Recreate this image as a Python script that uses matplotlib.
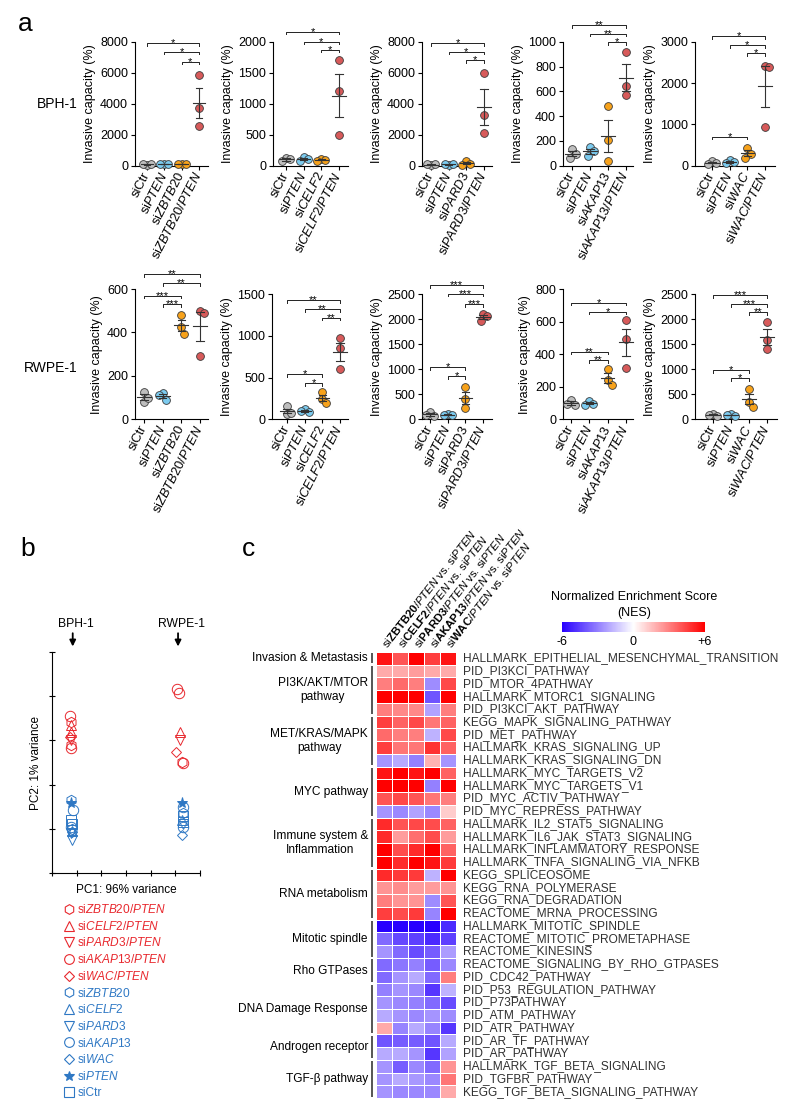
import numpy as np
import matplotlib
matplotlib.use("Agg")
import matplotlib.pyplot as plt
from matplotlib.colors import LinearSegmentedColormap, Normalize
from matplotlib.cm import ScalarMappable
from matplotlib.lines import Line2D

plt.rcParams['font.family'] = ['Liberation Sans', 'DejaVu Sans']
plt.rcParams['mathtext.fontset'] = 'custom'
plt.rcParams['mathtext.rm'] = 'Liberation Sans'
plt.rcParams['mathtext.it'] = 'Liberation Sans:italic'
plt.rcParams['mathtext.bf'] = 'Liberation Sans:bold'
plt.rcParams['axes.linewidth'] = 0.8

# ======================= DATA =======================
genes = ['ZBTB20', 'CELF2', 'PARD3', 'AKAP13', 'WAC']
cell_lines = ['BPH-1', 'RWPE-1']

# Invasive capacity (%) - three replicates per group
bph_ctr = [[60, 100, 120], [130, 100, 70], [50, 80, 100], [135, 95, 62], [110, 70, 50]]
bph_pten = [[80, 100, 120], [140, 100, 80], [60, 80, 100], [150, 115, 80], [140, 80, 70]]
bph_gene = [[90, 100, 130], [110, 90, 80], [320, 120, 50], [480, 210, 35], [430, 285, 190]]
bph_double = [[5850, 3700, 2550], [1700, 1200, 490], [6000, 3300, 2100], [920, 570, 640], [2420, 2400, 930]]

rwpe_ctr = [[125, 80, 100], [155, 65, 80], [150, 60, 90], [120, 85, 95], [110, 70, 90]]
rwpe_pten = [[120, 90, 110], [120, 90, 95], [110, 80, 90], [115, 95, 90], [100, 70, 90]]
rwpe_gene = [[478, 426, 395], [330, 243, 190], [650, 400, 220], [307, 241, 211], [605, 352, 253]]
rwpe_double = [[500, 490, 293], [969, 858, 602], [2100, 2060, 1960], [610, 490, 317], [1935, 1580, 1400]]

ymax_bph = [8000, 2000, 8000, 1000, 3000]
ystep_bph = [2000, 500, 2000, 200, 1000]
ymax_rwpe = [600, 1500, 2500, 800, 2500]
ystep_rwpe = [200, 500, 500, 200, 500]

# significance comparisons (group i, group j, label)
sig_bph = [
    [(0, 3, '*'), (1, 3, '*'), (2, 3, '*')],
    [(0, 3, '*'), (1, 3, '*'), (2, 3, '*')],
    [(0, 3, '*'), (1, 3, '*'), (2, 3, '*')],
    [(0, 3, '**'), (1, 3, '**'), (2, 3, '*')],
    [(0, 3, '*'), (1, 3, '*'), (2, 3, '*'), (0, 2, '*')],
]
sig_rwpe = [
    [(0, 3, '**'), (1, 3, '**'), (0, 2, '***'), (1, 2, '***')],
    [(0, 3, '**'), (1, 3, '**'), (2, 3, '**'), (0, 2, '*'), (1, 2, '*')],
    [(0, 3, '***'), (1, 3, '***'), (2, 3, '***'), (0, 2, '*'), (1, 2, '*')],
    [(0, 3, '*'), (1, 3, '*'), (0, 2, '**'), (1, 2, '**')],
    [(0, 3, '***'), (1, 3, '***'), (2, 3, '**'), (0, 2, '*'), (1, 2, '*')],
]

# PCA (panel b), legend order
pca_names = ['ZBTB20/PTEN', 'CELF2/PTEN', 'PARD3/PTEN', 'AKAP13/PTEN', 'WAC/PTEN',
             'ZBTB20', 'CELF2', 'PARD3', 'AKAP13', 'WAC', 'PTEN', 'Ctr']
pc1_bph = [[0.76, 0.76], [0.78, 0.76], [0.78], [0.74, 0.76], [0.74],
           [0.76, 0.80], [0.82], [0.80, 0.78], [0.84, 0.78], [0.80], [0.78], [0.78, 0.80]]
pc2_bph = [[3.42, 2.90], [3.35, 3.20], [3.02], [3.55, 2.82], [3.08],
           [1.66, 1.00], [0.95], [0.75, 0.90], [1.43, 1.05], [0.92], [1.59], [1.20, 1.10]]
pc1_rwpe = [[5.26], [5.20], [5.20], [5.08, 5.14, 5.30], [5.04],
            [5.30], [5.28], [5.30], [5.30, 5.30], [5.28], [5.28], [5.30, 5.30]]
pc2_rwpe = [[2.52], [3.20], [3.02], [4.16, 4.08, 2.48], [2.74],
            [1.35], [1.20], [1.10], [1.49, 1.04], [0.86], [1.59], [1.28, 1.15]]

# Heatmap (panel c)
col_genes = ['ZBTB20', 'CELF2', 'PARD3', 'AKAP13', 'WAC']
pathways = [
    'HALLMARK_EPITHELIAL_MESENCHYMAL_TRANSITION', 'PID_PI3KCI_PATHWAY', 'PID_MTOR_4PATHWAY',
    'HALLMARK_MTORC1_SIGNALING', 'PID_PI3KCI_AKT_PATHWAY', 'KEGG_MAPK_SIGNALING_PATHWAY',
    'PID_MET_PATHWAY', 'HALLMARK_KRAS_SIGNALING_UP', 'HALLMARK_KRAS_SIGNALING_DN',
    'HALLMARK_MYC_TARGETS_V2', 'HALLMARK_MYC_TARGETS_V1', 'PID_MYC_ACTIV_PATHWAY',
    'PID_MYC_REPRESS_PATHWAY', 'HALLMARK_IL2_STAT5_SIGNALING', 'HALLMARK_IL6_JAK_STAT3_SIGNALING',
    'HALLMARK_INFLAMMATORY_RESPONSE', 'HALLMARK_TNFA_SIGNALING_VIA_NFKB', 'KEGG_SPLICEOSOME',
    'KEGG_RNA_POLYMERASE', 'KEGG_RNA_DEGRADATION', 'REACTOME_MRNA_PROCESSING',
    'HALLMARK_MITOTIC_SPINDLE', 'REACTOME_MITOTIC_PROMETAPHASE', 'REACTOME_KINESINS',
    'REACTOME_SIGNALING_BY_RHO_GTPASES', 'PID_CDC42_PATHWAY', 'PID_P53_REGULATION_PATHWAY',
    'PID_P73PATHWAY', 'PID_ATM_PATHWAY', 'PID_ATR_PATHWAY', 'PID_AR_TF_PATHWAY', 'PID_AR_PATHWAY',
    'HALLMARK_TGF_BETA_SIGNALING', 'PID_TGFBR_PATHWAY', 'KEGG_TGF_BETA_SIGNALING_PATHWAY']
nes = [
    [5.5, 4.0, 6.0, 4.5, 5.5],
    [2.0, 2.0, 2.3, 2.0, 2.0],
    [3.0, 3.5, 3.0, -2.7, 4.3],
    [6.0, 6.0, 6.0, -4.0, 6.0],
    [3.0, 2.8, 2.8, -2.2, 3.0],
    [4.5, 3.7, 4.3, 3.2, 3.7],
    [3.5, 3.0, 3.0, -1.8, 4.3],
    [4.5, 3.2, 3.2, 4.8, 3.7],
    [-2.5, -2.0, -3.0, 1.8, -2.5],
    [5.5, 6.0, 5.5, 6.0, 3.7],
    [6.0, 6.0, 6.0, -3.0, 6.0],
    [4.0, 4.3, 4.0, 3.2, 3.0],
    [-2.5, -2.8, -2.2, -2.8, 1.2],
    [5.0, 4.0, 4.3, 4.2, 3.7],
    [5.0, 2.3, 3.4, 4.2, 2.3],
    [6.0, 4.2, 5.0, 6.0, 3.7],
    [6.0, 5.0, 6.0, 5.5, 4.6],
    [5.0, 4.6, 4.6, -1.8, 6.0],
    [2.5, 2.7, 2.3, 2.3, 2.5],
    [3.0, 2.5, 2.5, -2.7, 4.0],
    [4.5, 4.2, 4.6, -2.9, 6.0],
    [-6.0, -6.0, -6.0, -6.0, -5.0],
    [-3.5, -4.3, -4.5, -5.0, -4.5],
    [-2.5, -3.5, -4.2, -3.8, -2.3],
    [-3.5, -3.2, -3.0, -3.8, -2.8],
    [-3.5, -2.5, -2.0, -3.5, 3.0],
    [-3.0, -2.5, -2.8, -4.7, -1.8],
    [-2.5, -2.8, -3.0, -3.5, -4.2],
    [-2.0, -2.5, -2.8, -2.5, -2.7],
    [2.0, -2.9, -2.0, -2.9, -4.7],
    [-4.0, -3.8, -3.8, -4.0, -2.0],
    [-2.0, -2.0, -2.5, -4.7, -2.2],
    [-2.5, -3.8, -2.8, -3.5, 2.5],
    [-2.5, -2.0, -2.4, -2.8, 3.2],
    [-2.5, -2.8, -2.8, -2.8, 2.0],
]
group_names = ['Invasion & Metastasis', 'PI3K/AKT/MTOR\npathway', 'MET/KRAS/MAPK\npathway',
               'MYC pathway', 'Immune system &\nInflammation', 'RNA metabolism',
               'Mitotic spindle', 'Rho GTPases', 'DNA Damage Response', 'Androgen receptor',
               'TGF-\u03b2 pathway']
group_sizes = [1, 4, 4, 4, 4, 4, 3, 2, 4, 2, 3]

# ======================= LAYOUT / STYLE =======================
W, H = 800, 1119
fig = plt.figure(figsize=(W / 100, H / 100), dpi=100)


def add_px_axes(L, T, R, B):
    return fig.add_axes([L / W, 1 - B / H, (R - L) / W, (B - T) / H])


group_colors = ['#BEBEBE', '#7CCBEF', '#F7A21B', '#D75A5A']

lay_top = dict(L=[135, 273, 422, 563, 695], first=[147, 286, 431, 572, 712],
               last=[199, 339, 484, 626, 765], R=[208, 348, 492, 633, 775],
               T=[41.7] * 5, B=165.7)
lay_bot = dict(L=[135, 272, 422, 563, 695], first=[144, 287, 430, 571, 713],
               last=[200, 340, 483, 626, 767], R=[208, 348, 492, 633, 777],
               T=[289, 294, 294, 289, 294], B=419.3)
bfrac_bph = [[0.99, 0.92, 0.84], [1.08, 1.0, 0.935], [0.99, 0.92, 0.85],
             [1.135, 1.065, 0.995], [1.046, 0.973, 0.906, 0.234]]
bfrac_rwpe = [[1.115, 1.043, 0.949, 0.882], [0.952, 0.88, 0.811, 0.362, 0.287],
              [1.072, 1.003, 0.918, 0.415, 0.346], [0.895, 0.826, 0.519, 0.455],
              [0.992, 0.92, 0.854, 0.394, 0.327]]


def swarm_offsets(vals, ymax, hpx, sp_px, d=7.2, maxoff=4.0):
    cands = [0.0]
    s = 0.5
    while s <= maxoff + 1e-9:
        cands += [s, -s]
        s += 0.5
    placed, offs = [], []
    for v in vals:
        y = v / ymax * hpx
        best_c, best_d = 0.0, -1.0
        for c in cands:
            md = min([np.hypot(c - px, y - py) for px, py in placed], default=np.inf)
            if md >= d:
                best_c = c
                break
            if md > best_d:
                best_d, best_c = md, c
        placed.append((best_c, y))
        offs.append(best_c / sp_px)
    return offs


rows = [
    dict(groups=[bph_ctr, bph_pten, bph_gene, bph_double], ymax=ymax_bph, ystep=ystep_bph,
         sig=sig_bph, bfrac=bfrac_bph, lay=lay_top),
    dict(groups=[rwpe_ctr, rwpe_pten, rwpe_gene, rwpe_double], ymax=ymax_rwpe, ystep=ystep_rwpe,
         sig=sig_rwpe, bfrac=bfrac_rwpe, lay=lay_bot),
]

for r, row in enumerate(rows):
    lay = row['lay']
    for g in range(5):
        L, first, last, R = lay['L'][g], lay['first'][g], lay['last'][g], lay['R'][g]
        T, B = lay['T'][g], lay['B']
        ax = add_px_axes(L, T, R, B)
        sp = (last - first) / 3
        ax.set_xlim(-(first - L) / sp, 3 + (R - last) / sp)
        ymax = row['ymax'][g]
        ax.set_ylim(0, ymax)
        ax.set_yticks(np.arange(0, ymax + 1, row['ystep'][g]))
        for side in ['top', 'right']:
            ax.spines[side].set_visible(False)
        ax.tick_params(direction='out', length=3, width=0.8, labelsize=9, pad=2)
        gname = genes[g]
        labels = ['siCtr', r'si$\mathit{PTEN}$', rf'si$\mathit{{{gname}}}$',
                  rf'si$\mathit{{{gname}/PTEN}}$']
        ax.set_xticks(range(4))
        ax.set_xticklabels(labels, rotation=63, ha='right', va='center',
                           rotation_mode='anchor', fontsize=9.3)
        ax.set_ylabel('Invasive capacity (%)', fontsize=9, labelpad=3)
        hpx = B - T
        for k in range(4):
            vals = row['groups'][k][g]
            offs = swarm_offsets(vals, ymax, hpx, sp)
            ax.plot(np.array(offs) + k, vals, 'o', ms=5.6, mfc=group_colors[k], mec='#3a3a3a',
                    mew=0.6, clip_on=False, zorder=3)
            m = np.mean(vals)
            se = np.std(vals, ddof=1) / np.sqrt(len(vals))
            lc = '#333333'
            ax.plot([k - 0.37, k + 0.37], [m, m], color=lc, lw=0.8, zorder=4, clip_on=False)
            ax.plot([k, k], [m - se, m + se], color=lc, lw=0.8, zorder=4, clip_on=False)
            for yy in (m - se, m + se):
                ax.plot([k - 0.2, k + 0.2], [yy, yy], color=lc, lw=0.8, zorder=4, clip_on=False)
        tick = 2.7 / hpx * ymax
        for (i, j, lab), yf in zip(row['sig'][g], row['bfrac'][g]):
            y = yf * ymax
            ax.plot([i, i, j, j], [y - tick, y, y, y - tick], color='#222222', lw=0.7,
                    clip_on=False, zorder=5)
            ax.annotate(lab, xy=((i + j) / 2, y), xytext=(0, -2.2), textcoords='offset points',
                        ha='center', va='baseline', fontsize=8, annotation_clip=False)

fig.text(57 / W, 1 - 104 / H, cell_lines[0], ha='center', va='center', fontsize=10)
fig.text(51 / W, 1 - 368 / H, cell_lines[1], ha='center', va='center', fontsize=10)

# panel labels
fig.text(18 / W, 1 - 31 / H, 'a', fontsize=19, va='baseline')
fig.text(20 / W, 1 - 556 / H, 'b', fontsize=19, va='baseline')
fig.text(242 / W, 1 - 556 / H, 'c', fontsize=19, va='baseline')

# ---------------- panel b: PCA ----------------
red_c, blue_c = '#E8282E', '#2F78C4'
pca_markers = ['h', '^', 'v', 'o', 'D', 'h', '^', 'v', 'o', 'D', '*', 's']
pca_colors = [red_c] * 5 + [blue_c] * 7
pca_ms = [7.5, 7.5, 7.5, 7.5, 5.5, 7.5, 7.5, 7.5, 7.5, 5.5, 8, 6.5]

axb = add_px_axes(52, 652, 200, 873)
axb.set_xlim(0, 6)
axb.set_ylim(0, 5)
axb.set_xticks(range(7))
axb.set_yticks(range(6))
axb.set_xticklabels([])
axb.set_yticklabels([])
axb.tick_params(direction='inout', length=5, width=0.8)
for side in ['top', 'right']:
    axb.spines[side].set_visible(False)
axb.set_xlabel('PC1: 96% variance', fontsize=8.5, labelpad=2)
axb.set_ylabel('PC2: 1% variance', fontsize=8.5, labelpad=1)
for n in range(len(pca_names)):
    filled = pca_markers[n] == '*'
    for xs, ys in ((pc1_bph[n], pc2_bph[n]), (pc1_rwpe[n], pc2_rwpe[n])):
        axb.plot(xs, ys, linestyle='none', marker=pca_markers[n], ms=pca_ms[n],
                 mfc=pca_colors[n] if filled else 'none', mec=pca_colors[n], mew=0.7,
                 clip_on=False)

for name, xt, xa in ((cell_lines[0], 0.97, 0.84), (cell_lines[1], 5.23, 5.11)):
    axb.annotate(name, xy=(xt, 1.125), xycoords=('data', 'axes fraction'),
                 ha='center', va='center', fontsize=8.7, annotation_clip=False)
    axb.annotate('', xy=(xa, 1.025), xytext=(xa, 1.085),
                 xycoords=('data', 'axes fraction'), textcoords=('data', 'axes fraction'),
                 arrowprops=dict(arrowstyle='-|>', color='k', lw=1.3, mutation_scale=9,
                                 shrinkA=0, shrinkB=0),
                 annotation_clip=False)

handles, labs = [], []
for n, name in enumerate(pca_names):
    filled = pca_markers[n] == '*'
    handles.append(Line2D([], [], linestyle='none', marker=pca_markers[n],
                          ms=7 if pca_markers[n] != 'D' else 5.5,
                          mfc=pca_colors[n] if filled else 'none', mec=pca_colors[n], mew=0.8))
    labs.append('siCtr' if name == 'Ctr' else rf'si$\mathit{{{name}}}$')
leg = fig.legend(handles, labs, loc='upper left', bbox_to_anchor=(64 / W, 1 - 903 / H),
                 frameon=False, fontsize=8.6, handlelength=0.8, handletextpad=0.3,
                 labelspacing=0.31, borderpad=0, borderaxespad=0, labelcolor=pca_colors)

# ---------------- panel c: heatmap ----------------
cmap = LinearSegmentedColormap.from_list('nes', ['#2800FF', '#FFFFFF', '#FF0000'])
norm = Normalize(vmin=-6, vmax=6)
nrow = len(pathways)
axh = add_px_axes(376, 652, 456, 1098)
axh.pcolormesh(np.array(nes), cmap=cmap, norm=norm, edgecolors='white', linewidth=0.7)
axh.set_xlim(0, 5)
axh.set_ylim(nrow, 0)
axh.axis('off')
for i, p in enumerate(pathways):
    axh.text(5.42, i + 0.5, p, ha='left', va='center', fontsize=8.6, color='#303030')

start = 0
for gname, size in zip(group_names, group_sizes):
    axh.plot([-0.225, -0.225], [start + 0.1, start + size - 0.1], color='#555555', lw=1.4,
             clip_on=False, solid_capstyle='butt')
    axh.text(-0.5, start + size / 2, gname, ha='right', va='center', multialignment='center',
             fontsize=8.6, linespacing=1.2)
    start += size

for j, gname in enumerate(col_genes):
    lab = rf'si$\mathbf{{{gname}}}$/$\mathit{{PTEN}}$ vs. si$\mathit{{PTEN}}$'
    axh.annotate(lab, xy=(j + 0.5, 0), xytext=(0, 4), textcoords='offset points',
                 rotation=52, ha='left', va='center', rotation_mode='anchor', fontsize=8.2,
                 annotation_clip=False)

cax = add_px_axes(562, 621.7, 705, 632.3)
cb = fig.colorbar(ScalarMappable(norm=norm, cmap=cmap), cax=cax, orientation='horizontal')
cb.outline.set_visible(False)
cb.set_ticks([-6, 0, 6])
cb.set_ticklabels(['-6', '0', '+6'])
cax.tick_params(length=0, labelsize=9, pad=3)
fig.text(634 / W, 1 - 597 / H, 'Normalized Enrichment Score', ha='center', va='center', fontsize=9)
fig.text(634 / W, 1 - 612.7 / H, '(NES)', ha='center', va='center', fontsize=9)

fig.savefig('out.png', dpi=100)
